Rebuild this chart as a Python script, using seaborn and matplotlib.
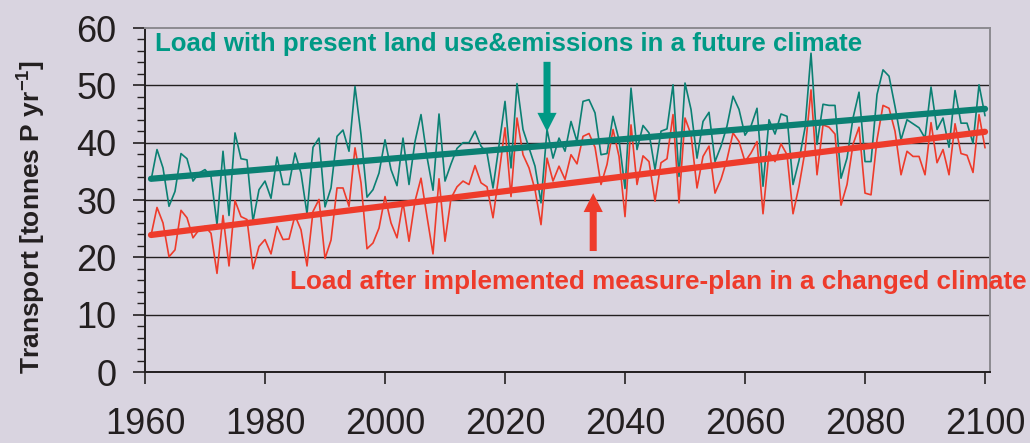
import numpy as np
import pandas as pd
import matplotlib
matplotlib.use("Agg")
import matplotlib.pyplot as plt
import seaborn as sns
from matplotlib.ticker import MultipleLocator

# annual phosphorus transport, 1961-2100
years = np.arange(1961, 2101)

present_load = [
    33.4, 38.8, 35.6, 28.9, 31.5, 38.1, 37.2, 33.3, 34.7, 35.3,
    34.1, 25.7, 38.5, 27.3, 41.7, 37.2, 37.0, 26.3, 31.8, 33.3,
    30.3, 37.5, 32.7, 32.7, 38.2, 34.7, 27.6, 39.2, 40.8, 28.8,
    32.1, 41.1, 42.2, 38.5, 49.8, 41.4, 30.5, 31.8, 34.7, 40.5,
    35.3, 32.5, 40.8, 32.7, 40.2, 44.9, 37.5, 31.7, 45.0, 33.3,
    36.3, 39.0, 40.0, 40.0, 42.0, 39.4, 38.2, 32.1, 39.5, 47.2,
    35.6, 50.3, 42.3, 39.1, 35.9, 29.5, 42.3, 37.3, 40.8, 38.5,
    43.7, 40.2, 47.2, 47.5, 45.2, 37.9, 38.1, 44.6, 40.5, 32.0,
    49.5, 38.8, 43.0, 41.7, 35.3, 42.0, 42.4, 50.1, 34.1, 50.4,
    45.8, 37.3, 43.7, 45.3, 36.7, 39.4, 42.9, 48.1, 45.8, 41.3,
    42.9, 46.0, 32.4, 44.0, 41.5, 45.0, 44.6, 32.7, 36.9, 42.6,
    55.6, 39.7, 46.7, 46.5, 46.5, 33.8, 37.3, 44.3, 48.8, 36.7,
    36.7, 48.4, 52.7, 51.6, 46.3, 40.5, 44.0, 43.3, 42.6, 40.8,
    49.7, 42.3, 44.3, 39.2, 49.1, 43.4, 43.4, 39.9, 50.1, 44.7,
]

measure_load = [
    23.8, 28.7, 26.0, 20.1, 21.3, 28.2, 26.9, 23.4, 24.8, 25.4,
    24.2, 17.2, 27.3, 18.5, 29.9, 27.1, 26.6, 18.0, 21.9, 23.1,
    20.6, 25.4, 23.1, 23.2, 27.3, 24.8, 18.5, 28.0, 30.1, 19.8,
    23.0, 32.1, 32.1, 28.9, 39.1, 33.0, 21.5, 22.5, 25.1, 30.6,
    26.0, 23.4, 29.6, 22.8, 29.8, 33.8, 27.1, 20.6, 33.7, 22.8,
    30.3, 32.3, 33.3, 32.7, 36.0, 33.0, 32.3, 26.9, 34.5, 42.6,
    30.6, 44.3, 37.9, 35.6, 31.8, 25.7, 37.3, 33.3, 35.9, 33.6,
    37.9, 36.3, 41.1, 41.6, 39.2, 32.7, 36.2, 42.3, 37.6, 27.1,
    43.1, 32.7, 37.7, 36.7, 29.8, 36.5, 37.2, 44.9, 29.5, 44.3,
    41.4, 32.1, 37.6, 39.4, 31.2, 33.6, 37.1, 41.7, 40.2, 36.7,
    38.2, 40.2, 27.6, 38.4, 36.7, 39.8, 37.9, 27.6, 32.4, 38.5,
    49.2, 34.4, 43.1, 42.7, 41.5, 29.1, 32.7, 39.7, 42.7, 31.2,
    30.9, 40.5, 46.5, 46.0, 42.0, 34.4, 38.5, 37.6, 37.6, 34.4,
    43.5, 36.5, 38.8, 34.4, 43.3, 38.1, 37.8, 34.8, 44.9, 39.1,
]

# linear trends (end points)
trend_years = [1961, 2100]
present_trend = [33.7, 45.9]
measure_trend = [23.9, 41.9]

present_label = "Load with present land use&emissions in a future climate"
measure_label = "Load after implemented measure-plan in a changed climate"

bg = "#d9d4e0"
teal = "#0b8073"
teal_txt = "#009985"
red = "#ee3b2b"

sns.set_theme(style="white")
plt.rcParams["font.family"] = ["Liberation Sans", "DejaVu Sans"]
plt.rcParams["mathtext.fontset"] = "custom"
plt.rcParams["mathtext.rm"] = "Liberation Sans"
plt.rcParams["mathtext.bf"] = "Liberation Sans:bold"

df = pd.DataFrame({
    "year": np.concatenate([years, years]),
    "load": present_load + measure_load,
    "case": ["present"] * len(years) + ["measure"] * len(years),
})

fig = plt.figure(figsize=(10.3, 4.43), dpi=100, facecolor=bg)
ax = fig.add_axes([145 / 1030, 71 / 443, 845 / 1030, 344 / 443])
ax.set_facecolor(bg)

sns.lineplot(data=df, x="year", y="load", hue="case",
             palette={"present": teal, "measure": red},
             linewidth=1.2, legend=False, ax=ax, zorder=3)
sns.lineplot(x=trend_years, y=present_trend, color=teal, linewidth=4.5, ax=ax, zorder=4)
sns.lineplot(x=trend_years, y=measure_trend, color=red, linewidth=4.5, ax=ax, zorder=4)

ax.set_xlim(1960, 2100.83)
ax.set_ylim(0, 60)
ax.set_xticks(range(1960, 2101, 20))
ax.set_yticks(range(0, 61, 10))
ax.yaxis.set_minor_locator(MultipleLocator(2))

ax.yaxis.grid(True, color="#231f20", linewidth=1.0)
ax.get_ygridlines()[-1].set_visible(False)
ax.set_axisbelow(True)

for side in ["left", "bottom"]:
    ax.spines[side].set_color("#231f20")
    ax.spines[side].set_linewidth(1.4)
for side in ["top", "right"]:
    ax.spines[side].set_color("#8c8a90")
    ax.spines[side].set_linewidth(1.4)

ax.tick_params(axis="y", which="major", left=True, direction="out", length=8.5,
               width=1.2, color="#231f20", labelsize=26, pad=12, labelcolor="#231f20")
ax.tick_params(axis="y", which="minor", left=True, direction="out", length=6,
               width=1.0, color="#231f20")
ax.tick_params(axis="x", which="major", bottom=True, direction="out", length=8.5,
               width=1.2, color="#231f20", labelsize=26, pad=17, labelcolor="#231f20")

ax.set_xlabel("")
ax.set_ylabel(r"Transport [tonnes P yr$^{\mathbf{-1}}$]", fontsize=19,
              fontweight="bold", color="#231f20")
ax.yaxis.set_label_coords(-0.136, 0.45)
ax.yaxis.label.set_va("center")

ax.text(1961.7, 56.0, present_label, color=teal_txt, fontsize=18.6,
        fontweight="bold", va="baseline", ha="left", zorder=5)
ax.text(1984.2, 14.5, measure_label, color=red, fontsize=18.8,
        fontweight="bold", va="baseline", ha="left", clip_on=False, zorder=5)

ax.arrow(2027.0, 54.1, 0, 41.9 - 54.1, width=1.17, head_width=3.2, head_length=3.3,
         length_includes_head=True, color=teal_txt, linewidth=0, zorder=5)
ax.arrow(2034.7, 21.1, 0, 31.2 - 21.1, width=1.17, head_width=3.2, head_length=3.3,
         length_includes_head=True, color=red, linewidth=0, zorder=5)

fig.savefig("out.png", dpi=100, facecolor=bg)
